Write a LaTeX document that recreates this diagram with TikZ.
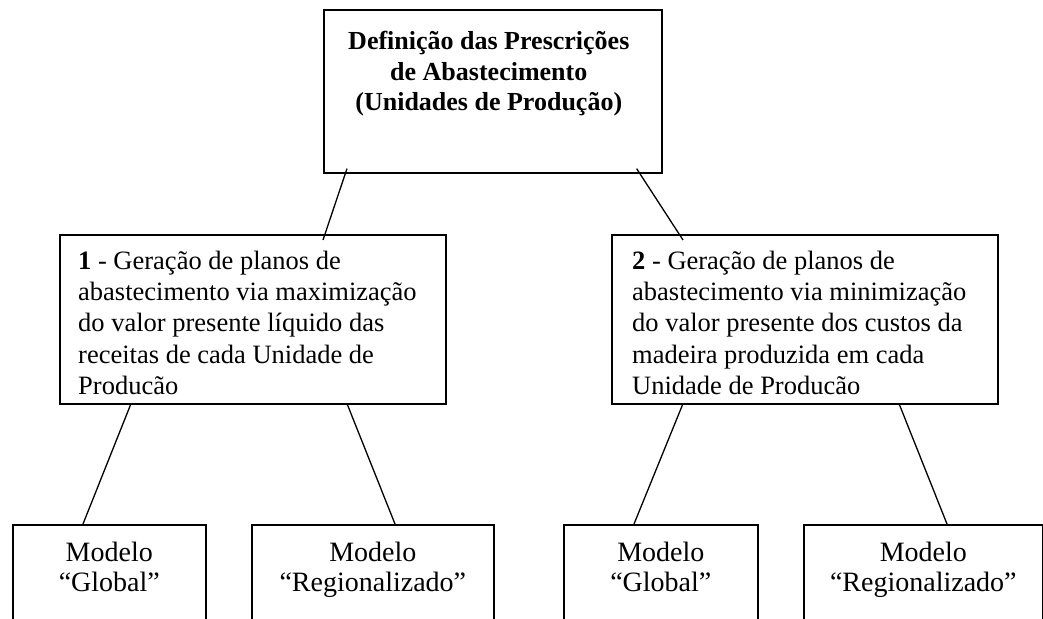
\documentclass[tikz,border=0pt]{standalone}
\usepackage{fontspec}
\setmainfont{Liberation Serif}

\tikzset{
	caixa/.style={draw, line width=1.6pt, anchor=north west, inner sep=0pt},
	texto/.style={anchor=north, inner sep=0pt, align=center, font=\fontsize{28}{29.5}\selectfont},
	ligacao/.style={line width=1.3pt}
}

\begin{document}
\begin{tikzpicture}[x=1pt, y=-1pt]
	\useasboundingbox (0,0) rectangle (1043,618);
	\clip (0,0) rectangle (1043,618);

	%\draw (0,0) grid[step=50] (1043,618);
	\node[caixa, minimum width=338pt, minimum height=163pt,
		label={[texto, xshift=-4pt, yshift=-22pt, font=\bfseries\fontsize{26}{30.5}\selectfont]north:Definição das Prescrições\\de Abastecimento\\(Unidades de Produção)}] (defin) at (323,9) {};

	\node[caixa, minimum width=386pt, minimum height=169pt,
		label={[texto, anchor=north west, xshift=19pt, yshift=-17pt, align=left, font=\fontsize{26.5}{31.2}\selectfont]north west:\textbf{1} - Geração de planos de\\abastecimento via maximização\\do valor presente líquido das\\receitas de cada Unidade de\\Producão}] (plano1) at (59,234) {};
	\node[caixa, minimum width=386pt, minimum height=169pt,
		label={[texto, anchor=north west, xshift=21pt, yshift=-17pt, align=left, font=\fontsize{26.5}{31.2}\selectfont]north west:\textbf{2} - Geração de planos de\\abastecimento via minimização\\do valor presente dos custos da\\madeira produzida em cada\\Unidade de Producão}] (plano2) at (611,234) {};

	\node[caixa, minimum width=193pt, minimum height=130pt, label={[texto, yshift=-18pt]north:Modelo\\“Global”}] (glob1) at (12,524) {};
	\node[caixa, minimum width=242pt, minimum height=130pt, label={[texto, yshift=-18pt]north:Modelo\\“Regionalizado”}] (regi1) at (251,524) {};
	\node[caixa, minimum width=194pt, minimum height=130pt, label={[texto, yshift=-18pt]north:Modelo\\“Global”}] (glob2) at (563,524) {};
	\node[caixa, minimum width=239pt, minimum height=130pt, label={[texto, yshift=-18pt]north:Modelo\\“Regionalizado”}] (regi2) at (803,524) {};

	\draw[ligacao] ([shift={(24,-5)}]defin.south west) -- ([shift={(264,6)}]plano1.north west);
	\draw[ligacao] ([shift={(-26,-5)}]defin.south east) -- ([shift={(72,6)}]plano2.north west);

	\draw[ligacao] ([shift={(72,-1)}]plano1.south west) -- ([shift={(71,0)}]glob1.north west);
	\draw[ligacao] ([shift={(288,-1)}]plano1.south west) -- ([shift={(144,0)}]regi1.north west);
	\draw[ligacao] ([shift={(72,-1)}]plano2.south west) -- ([shift={(71,0)}]glob2.north west);
	\draw[ligacao] ([shift={(288,-1)}]plano2.south west) -- ([shift={(144,0)}]regi2.north west);
\end{tikzpicture}
\end{document}
